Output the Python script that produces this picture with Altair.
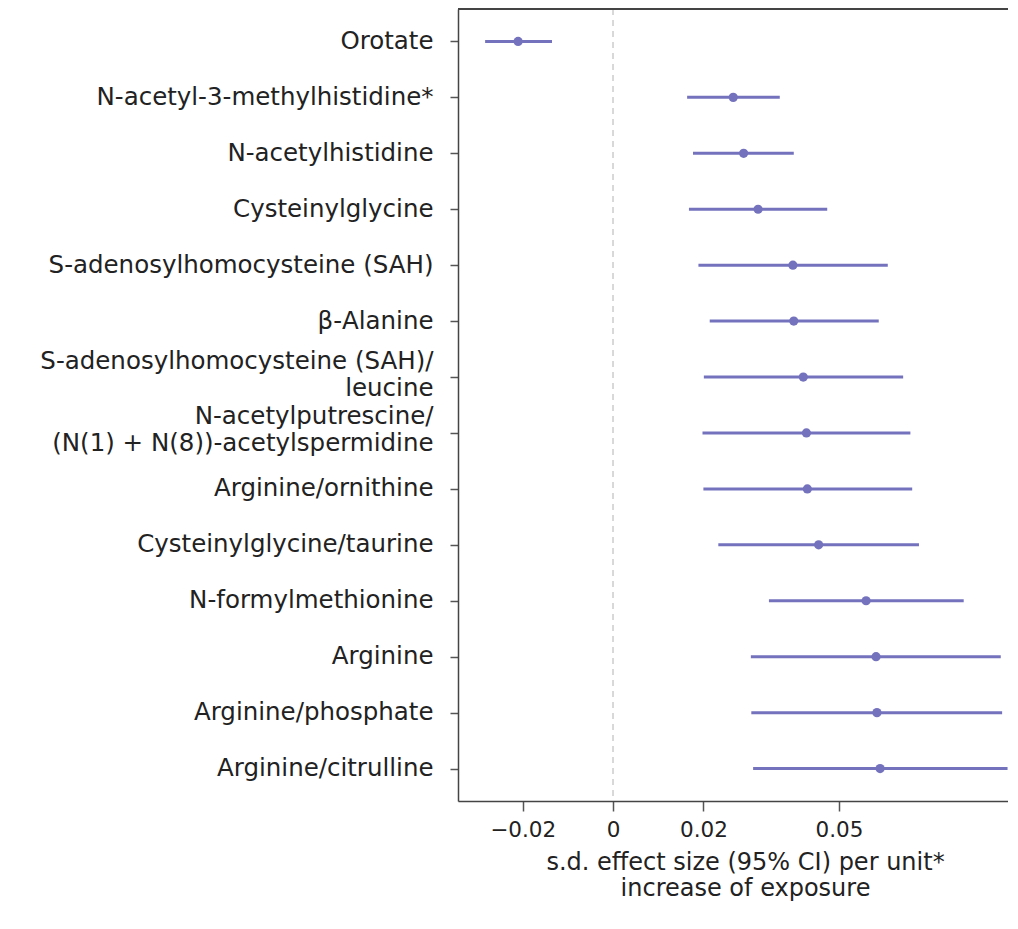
import altair as alt
import pandas as pd

labels = [
    "Orotate",
    "N-acetyl-3-methylhistidine*",
    "N-acetylhistidine",
    "Cysteinylglycine",
    "S-adenosylhomocysteine (SAH)",
    "β-Alanine",
    "S-adenosylhomocysteine (SAH)/|leucine",
    "N-acetylputrescine/|(N(1) + N(8))-acetylspermidine",
    "Arginine/ornithine",
    "Cysteinylglycine/taurine",
    "N-formylmethionine",
    "Arginine",
    "Arginine/phosphate",
    "Arginine/citrulline",
]
estimate = [-0.0210, 0.0266, 0.0289, 0.0321, 0.0398, 0.0400, 0.0421, 0.0428,
            0.0430, 0.0455, 0.0560, 0.0582, 0.0584, 0.0591]
ci_low = [-0.0283, 0.0164, 0.0177, 0.0168, 0.0189, 0.0214, 0.0201, 0.0198,
          0.0200, 0.0233, 0.0345, 0.0305, 0.0306, 0.0310]
ci_high = [-0.0135, 0.0369, 0.0400, 0.0474, 0.0608, 0.0588, 0.0642, 0.0658,
           0.0662, 0.0677, 0.0776, 0.0858, 0.0861, 0.0873]
x_ticks = [-0.02, 0, 0.02, 0.05]
zero = [0]

df = pd.DataFrame({"label": labels, "est": estimate, "lo": ci_low, "hi": ci_high})

FONT = "DejaVu Sans"
COLOR = "#7472bd"
W, H = 550, 792

xscale = alt.Scale(domain=[-0.0343, 0.0874], nice=False, zero=False)
yenc = alt.Y(
    "label:N",
    sort=labels,
    scale=alt.Scale(type="point", padding=0.58),
    axis=alt.Axis(
        title=None,
        labelExpr="split(datum.label, '|')",
        labelFontSize=24.5,
        labelFont=FONT,
        labelColor="#222222",
        labelPadding=17,
        labelLimit=600,
        labelLineHeight=27,
        labelOffset={"condition": {"test": "indexof(datum.value, '|') >= 0", "value": -16}, "value": 0},
        tickSize=8,
        tickColor="#555555",
        tickWidth=1.5,
        domainColor="#444444",
        domainWidth=1.5,
        grid=False,
    ),
)

base = alt.Chart(df)

zero_line = alt.Chart(pd.DataFrame({"z": zero})).mark_rule(
    color="#cccccc", strokeDash=[6, 5], strokeWidth=1.5
).encode(x=alt.X("z:Q", scale=xscale))

top_line = base.mark_rule(color="#444444", strokeWidth=1.5).encode(
    x=alt.value(0), x2=alt.value(W), y=alt.value(0)
)

bars = base.mark_rule(color=COLOR, strokeWidth=3).encode(
    x=alt.X(
        "lo:Q",
        scale=xscale,
        axis=alt.Axis(
            values=x_ticks,
            format="~g",
            title=["s.d. effect size (95% CI) per unit*", "increase of exposure"],
            titleFont=FONT,
            titleFontSize=24,
            titleFontWeight="normal",
            titleColor="#222222",
            titlePadding=10,
            titleLineHeight=26,
            titleX=287,
            labelFont=FONT,
            labelFontSize=21.5,
            labelColor="#222222",
            labelPadding=8,
            tickSize=10,
            tickColor="#555555",
            tickWidth=1.5,
            domainColor="#444444",
            domainWidth=1.5,
            grid=False,
        ),
    ),
    x2="hi:Q",
    y=yenc,
)

points = base.mark_circle(color=COLOR, size=85, opacity=1).encode(
    x=alt.X("est:Q", scale=xscale),
    y=alt.Y("label:N", sort=labels),
)

chart = (
    alt.layer(zero_line, bars, points, top_line)
    .properties(
        width=W,
        height=H,
        autosize=alt.AutoSizeParams(type="none"),
        padding={"left": 450, "top": 1, "right": 0, "bottom": 110},
    )
    .configure_view(stroke=None)
    .configure(background="white")
)

chart.save("out.html", embed_options={"renderer": "svg", "actions": False})
